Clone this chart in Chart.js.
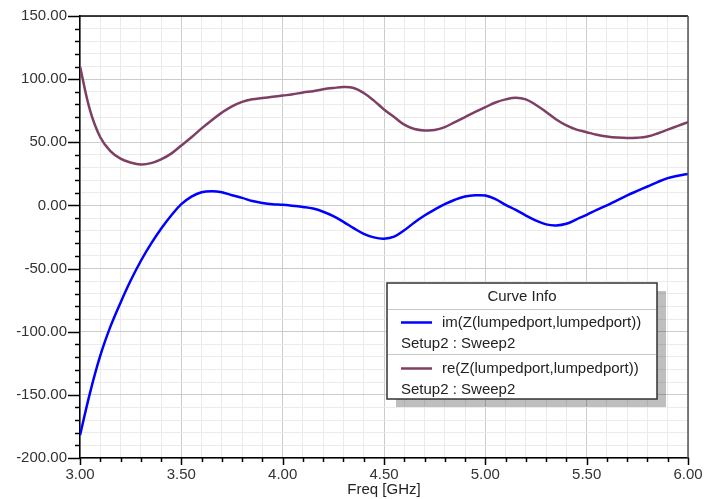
<!DOCTYPE html>
<html>
<head>
<meta charset="utf-8">
<script src="https://cdn.jsdelivr.net/npm/chart.js@4/dist/chart.umd.min.js"></script>
<style>
  html, body { margin: 0; padding: 0; background: #fff; }
  #wrap { width: 704px; height: 499px; position: relative; }
</style>
</head>
<body>
<div id="wrap"><canvas id="chart"></canvas></div>
<script>
const freq = [
  3.00, 3.05, 3.10, 3.15, 3.20, 3.25, 3.30, 3.35, 3.40, 3.45,
  3.50, 3.55, 3.60, 3.65, 3.70, 3.75, 3.80, 3.85, 3.90, 3.95,
  4.00, 4.05, 4.10, 4.15, 4.20, 4.25, 4.30, 4.35, 4.40, 4.45,
  4.50, 4.55, 4.60, 4.65, 4.70, 4.75, 4.80, 4.85, 4.90, 4.95,
  5.00, 5.05, 5.10, 5.15, 5.20, 5.25, 5.30, 5.35, 5.40, 5.45,
  5.50, 5.55, 5.60, 5.65, 5.70, 5.75, 5.80, 5.85, 5.90, 5.95,
  6.00
];

const imZ = [
  -182, -148, -119, -96, -77, -59.5, -44, -30.5, -18.5, -8,
  1, 7, 10.5, 11.3, 10.5, 8, 6, 3.5, 2, 1,
  0.5, -0.3, -1.2, -2.5, -5, -8.5, -13, -18, -22.5, -25.3,
  -26.3, -24.7, -19.7, -13.5, -8, -3.3, 1, 4.5, 7, 8,
  7.8, 5, 0.5, -3.5, -8, -12, -15, -15.8, -14.5, -11,
  -7.4, -3.5, 0, 4, 7.9, 11.5, 15, 18.5, 21.6, 23.5,
  25
];

const reZ = [
  110, 75, 54, 43, 37, 34, 32.5, 33.5, 36.5, 41,
  47.5, 54, 61, 67.5, 73.5, 78.5, 82, 84, 85, 86,
  87, 88, 89.5, 90.5, 92, 93, 93.7, 93, 89, 83,
  76, 70, 64, 60.5, 59.4, 59.7, 62, 66, 70, 74,
  77.8, 81.5, 84, 85.3, 84, 79.5, 74, 68, 63.3, 60,
  58, 56, 54.6, 53.7, 53.3, 53.6, 54.6, 57, 60, 63,
  66
];

const seriesNames = ["im(Z(lumpedport,lumpedport))", "re(Z(lumpedport,lumpedport))"];
const sweepName = "Setup2 : Sweep2";
const seriesColors = ["#0000ff", "#7e3f64"];

const FONT = "'Liberation Sans', Arial, sans-serif";
const isMajor = (v, step) => Math.abs(v / step - Math.round(v / step)) < 1e-6;

// axis tick marks, frame and the curve info box
const decor = {
  id: "decor",
  afterDraw(chart) {
    const c = chart.ctx;
    const a = chart.chartArea;
    const xs = chart.scales.x, ys = chart.scales.y;
    c.save();
    c.strokeStyle = "#000";
    c.lineWidth = 1.5;
    ys.ticks.forEach(t => {
      const y = Math.round(ys.getPixelForValue(t.value)) + 0.5;
      const len = isMajor(t.value, 50) ? 12 : 5;
      c.beginPath(); c.moveTo(a.left - len, y); c.lineTo(a.left, y); c.stroke();
    });
    xs.ticks.forEach(t => {
      const x = Math.round(xs.getPixelForValue(t.value)) + 0.5;
      const len = isMajor(t.value, 0.5) ? 7 : 4;
      c.beginPath(); c.moveTo(x, a.bottom); c.lineTo(x, a.bottom + len); c.stroke();
    });
    c.beginPath(); c.moveTo(a.left, a.top); c.lineTo(a.right, a.top); c.stroke();
    c.strokeStyle = "#555";
    c.beginPath(); c.moveTo(a.right, a.top); c.lineTo(a.right, a.bottom); c.stroke();

    // curve info box
    const bx = 387, by = 283, bw = 270, bh = 116;
    c.fillStyle = "rgba(0,0,0,0.25)";
    c.fillRect(bx + 9, by + 8, bw, bh);
    c.fillStyle = "#fff";
    c.fillRect(bx, by, bw, bh);
    c.strokeStyle = "#333";
    c.lineWidth = 1.5;
    c.strokeRect(bx, by, bw, bh);
    c.strokeStyle = "#c8c8c8";
    c.lineWidth = 1;
    [309.5, 354.5].forEach(y => {
      c.beginPath(); c.moveTo(bx + 1, y); c.lineTo(bx + bw - 1, y); c.stroke();
    });
    c.fillStyle = "#222";
    c.font = "15px " + FONT;
    c.textBaseline = "middle";
    c.textAlign = "center";
    c.fillText("Curve Info", bx + bw / 2, 297);
    c.textAlign = "left";
    [322.5, 368.5].forEach((y, i) => {
      c.strokeStyle = seriesColors[i];
      c.lineWidth = 2.5;
      c.beginPath(); c.moveTo(401, y); c.lineTo(432, y); c.stroke();
      c.fillText(seriesNames[i], 442, y);
      c.fillText(sweepName, 401, y + 21);
    });
    c.restore();
  }
};

new Chart(document.getElementById("chart"), {
  type: "line",
  data: {
    datasets: [imZ, reZ].map((vals, i) => ({
      label: seriesNames[i],
      data: freq.map((f, j) => ({ x: f, y: vals[j] })),
      borderColor: seriesColors[i],
      borderWidth: 2.5,
      pointRadius: 0,
      tension: 0.4,
      fill: false
    }))
  },
  options: {
    responsive: true,
    maintainAspectRatio: false,
    animation: false,
    layout: { padding: { top: 16, right: 16, left: 0, bottom: 0 } },
    plugins: { legend: { display: false }, tooltip: { enabled: false } },
    scales: {
      x: {
        type: "linear",
        min: 3, max: 6,
        afterFit: s => { s.height = 41; s.paddingLeft = 0; s.paddingRight = 0; },
        ticks: {
          stepSize: 0.1,
          autoSkip: false,
          maxRotation: 0,
          padding: 8,
          color: "#333",
          font: { family: FONT, size: 15 },
          callback: v => isMajor(v, 0.5) ? v.toFixed(2) : ""
        },
        grid: {
          drawTicks: false,
          color: c => isMajor(c.tick.value, 0.5) ? "#cccccc" : "#ebebeb",
          lineWidth: 1
        },
        border: { color: "#000", width: 1.5 },
        title: {
          display: true,
          text: "Freq [GHz]",
          color: "#222",
          font: { family: FONT, size: 15 },
          padding: { top: 0, bottom: 0 }
        }
      },
      y: {
        min: -200, max: 150,
        afterFit: s => { s.width = 80; s.paddingTop = 0; s.paddingBottom = 0; },
        ticks: {
          stepSize: 10,
          autoSkip: false,
          padding: 13,
          color: "#333",
          font: { family: FONT, size: 15 },
          callback: v => isMajor(v, 50) ? v.toFixed(2) : ""
        },
        grid: {
          drawTicks: false,
          color: c => isMajor(c.tick.value, 50) ? "#cccccc" : "#ebebeb",
          lineWidth: 1
        },
        border: { color: "#000", width: 1.5 }
      }
    }
  },
  plugins: [decor]
});
</script>
</body>
</html>
